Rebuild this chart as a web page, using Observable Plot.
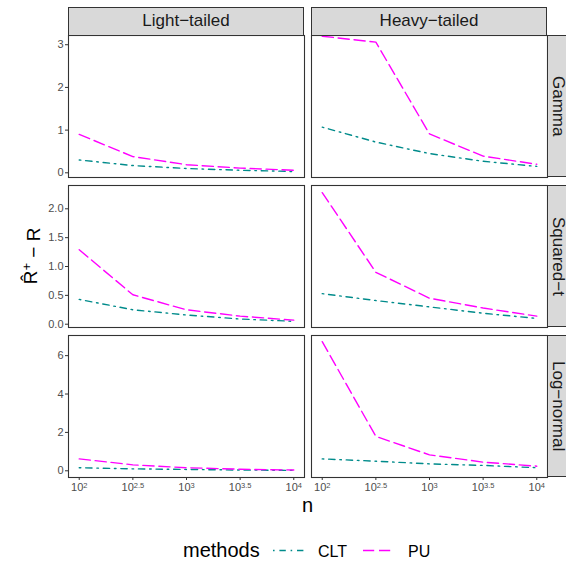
<!DOCTYPE html>
<html>
<head>
<meta charset="utf-8">
<script src="https://cdn.jsdelivr.net/npm/d3@7"></script>
<script src="https://cdn.jsdelivr.net/npm/@observablehq/plot@0.6"></script>
<style>
  html, body { margin: 0; padding: 0; background: #fff; }
  #chart { position: relative; width: 566px; height: 565px; overflow: hidden; font-family: "Liberation Sans", Arial, sans-serif; }
  #chart > svg, #chart > .panel { position: absolute; }
  .strip { position: absolute; box-sizing: border-box; background: #D9D9D9; border: 1.1px solid #333; color: #1A1A1A; font-size: 17px; display: flex; align-items: center; justify-content: center; }
  .strip.v { writing-mode: vertical-rl; }
</style>
</head>
<body>
<div id="chart"></div>
<script>
// ---------- data ----------
const nValues = [100, 10 ** 2.5, 1000, 10 ** 3.5, 10000];
const nExponents = ["2", "2.5", "3", "3.5", "4"];
const methods = ["CLT", "PU"];
const tails = ["Light\u2212tailed", "Heavy\u2212tailed"];
const dists = ["Gamma", "Squared\u2212t", "Log\u2212normal"];

const gammaLightCLT = [0.30, 0.17, 0.10, 0.06, 0.03];
const gammaLightPU = [0.90, 0.38, 0.19, 0.11, 0.06];
const gammaHeavyCLT = [1.07, 0.72, 0.45, 0.27, 0.15];
const gammaHeavyPU = [3.20, 3.06, 0.91, 0.39, 0.20];

const sqtLightCLT = [0.43, 0.25, 0.16, 0.09, 0.05];
const sqtLightPU = [1.29, 0.51, 0.25, 0.14, 0.07];
const sqtHeavyCLT = [0.53, 0.41, 0.30, 0.19, 0.10];
const sqtHeavyPU = [2.28, 0.90, 0.45, 0.28, 0.14];

const lnLightCLT = [0.16, 0.10, 0.07, 0.04, 0.02];
const lnLightPU = [0.62, 0.31, 0.16, 0.08, 0.04];
const lnHeavyCLT = [0.62, 0.50, 0.36, 0.28, 0.16];
const lnHeavyPU = [6.73, 1.79, 0.83, 0.45, 0.24];

const yTicksGamma = [0, 1, 2, 3];
const yTicksSqt = [0, 0.5, 1, 1.5, 2];
const yTicksLn = [0, 2, 4, 6];

const series = [
  [[gammaLightCLT, gammaLightPU], [gammaHeavyCLT, gammaHeavyPU]],
  [[sqtLightCLT, sqtLightPU], [sqtHeavyCLT, sqtHeavyPU]],
  [[lnLightCLT, lnLightPU], [lnHeavyCLT, lnHeavyPU]]
];
const rowTicks = [yTicksGamma, yTicksSqt, yTicksLn];
const rowFormats = [d3.format("d"), d3.format(".1f"), d3.format("d")];
const rowDomains = [[-0.11, 3.216], [-0.057, 2.404], [-0.35, 7.05]];

// ---------- style ----------
const colors = { CLT: "#008B8B", PU: "#FF00FF" };
const dashes = { CLT: "1.6,4.8,6.4,4.8", PU: "11.2,4.8" };
const lineW = 1.4;
const font = '"Liberation Sans", Arial, sans-serif';

// ---------- layout ----------
const colX = [68, 311];
const rowY = [35, 185, 335];
const panelW = 236, panelH = 142;

const chart = document.getElementById("chart");

function panel(r, c) {
  const mL = c === 0 ? 68 : 1, mR = 1, mT = 1, mB = r === 2 ? 34 : 1;
  const rows = [];
  methods.forEach((m, k) => {
    series[r][c][k].forEach((v, i) => rows.push({ n: nValues[i], v, method: m }));
  });
  const marks = [Plot.frame({ stroke: "#333", strokeWidth: 1.1 })];
  methods.forEach(m => {
    marks.push(Plot.line(rows.filter(d => d.method === m), {
      x: "n", y: "v", stroke: colors[m], strokeWidth: lineW,
      strokeDasharray: dashes[m], strokeLinejoin: "round"
    }));
  });
  const svg = Plot.plot({
    width: mL + panelW + mR,
    height: mT + panelH + mB,
    marginLeft: mL, marginRight: mR, marginTop: mT, marginBottom: mB,
    style: { fontFamily: font, fontSize: "11px", background: "transparent", overflow: "visible" },
    x: {
      type: "log", domain: [10 ** 1.9, 10 ** 4.1],
      ticks: nValues, tickFormat: (d) => "10^" + nExponents[nValues.indexOf(d)],
      tickSize: 3, tickPadding: 3, label: null, axis: r === 2 ? "bottom" : null
    },
    y: {
      domain: rowDomains[r], ticks: rowTicks[r], tickFormat: rowFormats[r],
      tickSize: 3, tickPadding: 2, label: null, axis: c === 0 ? "left" : null
    },
    marks
  });
  svg.style.position = "absolute";
  svg.style.left = (colX[c] - mL) + "px";
  svg.style.top = (rowY[r] - mT) + "px";
  // colors + superscripts
  d3.select(svg).selectAll("text").each(function () {
    const t = this.textContent;
    this.setAttribute("fill", "#4D4D4D");
    if (t.startsWith("10^")) {
      const exp = t.slice(3);
      const sel = d3.select(this);
      sel.text("10");
      sel.append("tspan").attr("dy", "-0.45em").attr("font-size", "7.5px").text(exp);
    }
  });
  d3.select(svg).selectAll("[aria-label$='tick'] path, [aria-label$='tick'] line, .tick line")
    .attr("stroke", "#333");
  chart.appendChild(svg);
}

for (let r = 0; r < 3; r++) for (let c = 0; c < 2; c++) panel(r, c);

// strips
tails.forEach((t, c) => {
  const d = document.createElement("div");
  d.className = "strip";
  d.style.left = colX[c] + "px"; d.style.top = "7px";
  d.style.width = panelW + "px"; d.style.height = "28.5px";
  d.textContent = t;
  chart.appendChild(d);
});
dists.forEach((t, r) => {
  const d = document.createElement("div");
  d.className = "strip v";
  d.style.left = "546.5px"; d.style.top = rowY[r] + "px";
  d.style.width = "22px"; d.style.height = panelH + "px";
  d.textContent = t;
  chart.appendChild(d);
});

// titles & legend
const ov = d3.select(chart).append("svg")
  .attr("width", 566).attr("height", 565)
  .style("left", "0px").style("top", "0px").style("pointer-events", "none")
  .attr("font-family", font);

const yt = ov.append("text")
  .attr("transform", "translate(37,256) rotate(-90)")
  .attr("text-anchor", "middle").attr("font-size", "19px").attr("fill", "#000");
yt.append("tspan").text("R\u0302");
yt.append("tspan").attr("dy", "-0.45em").attr("font-size", "13px").text("+");
yt.append("tspan").attr("dy", "0.45em").text(" \u2212 R");

ov.append("text").attr("x", 307.5).attr("y", 512).attr("text-anchor", "middle")
  .attr("font-size", "20px").attr("fill", "#000").text("n");

ov.append("text").attr("x", 183).attr("y", 556.5).attr("font-size", "20px").attr("fill", "#000").text("methods");
const keyX = { CLT: 273, PU: 363 };
const labX = { CLT: 318, PU: 408 };
methods.forEach(m => {
  ov.append("line").attr("x1", keyX[m]).attr("x2", keyX[m] + 31).attr("y1", 550.5).attr("y2", 550.5)
    .attr("stroke", colors[m]).attr("stroke-width", lineW).attr("stroke-dasharray", dashes[m]);
  ov.append("text").attr("x", labX[m]).attr("y", 556.5).attr("font-size", "16px").attr("fill", "#000").text(m);
});
</script>
</body>
</html>
